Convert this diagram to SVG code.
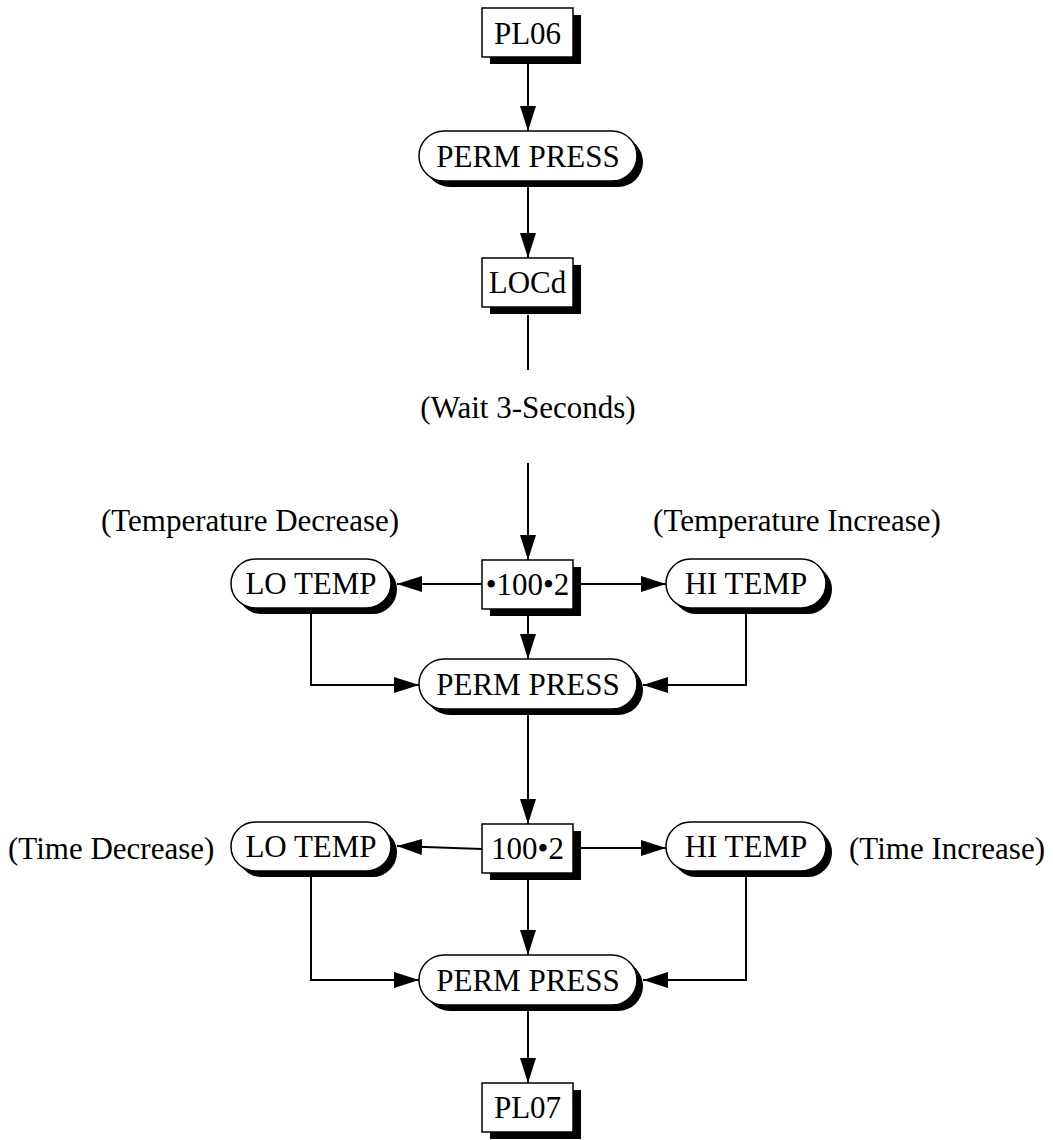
<svg xmlns="http://www.w3.org/2000/svg" width="1053" height="1140" viewBox="0 0 1053 1140">
  <style>
    text { font-family: "Liberation Serif", "Times New Roman", serif; font-size: 31px; fill: #000; }
    .c { text-anchor: middle; }
    .face { fill: #fff; stroke: #000; stroke-width: 1.5; }
    .shadow { fill: #000; stroke: none; }
    .wire { fill: none; stroke: #000; stroke-width: 2; }
    .arrow { marker-end: url(#head); }
  </style>
  <defs>
    <marker id="head" markerUnits="userSpaceOnUse" markerWidth="26" markerHeight="18" refX="25" refY="8" orient="auto">
      <path d="M0,0 L25,8 L0,16 Z" fill="#000"/>
    </marker>
  </defs>
  <rect width="1053" height="1140" fill="#fff"/>

  <!-- connectors -->
  <g id="connectors">
    <line class="wire arrow" x1="528" y1="64" x2="528" y2="131"/>
    <line class="wire arrow" x1="528" y1="187" x2="528" y2="258"/>
    <line class="wire" x1="528" y1="315" x2="528" y2="370"/>
    <line class="wire arrow" x1="528" y1="463" x2="528" y2="560"/>
    <line class="wire arrow" x1="482" y1="584" x2="397" y2="584"/>
    <line class="wire arrow" x1="581" y1="584" x2="666" y2="584"/>
    <line class="wire arrow" x1="528" y1="616" x2="528" y2="659"/>
    <polyline class="wire arrow" points="311,608 311,685 419,685"/>
    <polyline class="wire arrow" points="746,614 746,685 643,685"/>
    <line class="wire arrow" x1="528" y1="715" x2="528" y2="824"/>
    <line class="wire arrow" x1="482" y1="849" x2="397" y2="846"/>
    <line class="wire arrow" x1="581" y1="848" x2="666" y2="848"/>
    <line class="wire arrow" x1="528" y1="880" x2="528" y2="955"/>
    <polyline class="wire arrow" points="311,871 311,980 419,980"/>
    <polyline class="wire arrow" points="746,877 746,980 643,980"/>
    <line class="wire arrow" x1="528" y1="1011" x2="528" y2="1083"/>
  </g>

  <!-- free labels -->
  <g id="labels">
    <text class="c" x="528" y="418">(Wait 3-Seconds)</text>
    <text class="c" x="250" y="531">(Temperature Decrease)</text>
    <text class="c" x="797" y="531">(Temperature Increase)</text>
    <text x="8" y="859">(Time Decrease)</text>
    <text x="1045" y="859" text-anchor="end">(Time Increase)</text>
  </g>

  <!-- nodes -->
  <g id="pl06">
    <rect class="shadow" x="490" y="15" width="91" height="49"/>
    <rect class="face" x="482" y="8" width="91" height="49"/>
    <text class="c" x="527.5" y="43.5">PL06</text>
  </g>
  <g id="perm-press-1">
    <rect class="shadow" x="425" y="137" width="218" height="50" rx="25"/>
    <rect class="face" x="419" y="131" width="218" height="50" rx="25"/>
    <text class="c" x="528" y="167">PERM PRESS</text>
  </g>
  <g id="locd">
    <rect class="shadow" x="490" y="265" width="91" height="49"/>
    <rect class="face" x="482" y="258" width="91" height="49"/>
    <text class="c" x="527.5" y="293">LOCd</text>
  </g>
  <g id="temp-setting">
    <rect class="shadow" x="490" y="567" width="91" height="49"/>
    <rect class="face" x="482" y="560" width="91" height="49"/>
    <text class="c" x="527.5" y="595">•100•2</text>
  </g>
  <g id="lo-temp-1">
    <rect class="shadow" x="237" y="565" width="160" height="49" rx="24.5"/>
    <rect class="face" x="231" y="559" width="160" height="49" rx="24.5"/>
    <text class="c" x="311" y="594">LO TEMP</text>
  </g>
  <g id="hi-temp-1">
    <rect class="shadow" x="672" y="565" width="160" height="49" rx="24.5"/>
    <rect class="face" x="666" y="559" width="160" height="49" rx="24.5"/>
    <text class="c" x="746" y="594">HI TEMP</text>
  </g>
  <g id="perm-press-2">
    <rect class="shadow" x="425" y="665" width="218" height="50" rx="25"/>
    <rect class="face" x="419" y="659" width="218" height="50" rx="25"/>
    <text class="c" x="528" y="695">PERM PRESS</text>
  </g>
  <g id="time-setting">
    <rect class="shadow" x="490" y="831" width="91" height="49"/>
    <rect class="face" x="482" y="824" width="91" height="49"/>
    <text class="c" x="527.5" y="859">100•2</text>
  </g>
  <g id="lo-temp-2">
    <rect class="shadow" x="237" y="828" width="160" height="49" rx="24.5"/>
    <rect class="face" x="231" y="822" width="160" height="49" rx="24.5"/>
    <text class="c" x="311" y="857">LO TEMP</text>
  </g>
  <g id="hi-temp-2">
    <rect class="shadow" x="672" y="828" width="160" height="49" rx="24.5"/>
    <rect class="face" x="666" y="822" width="160" height="49" rx="24.5"/>
    <text class="c" x="746" y="857">HI TEMP</text>
  </g>
  <g id="perm-press-3">
    <rect class="shadow" x="425" y="961" width="218" height="50" rx="25"/>
    <rect class="face" x="419" y="955" width="218" height="50" rx="25"/>
    <text class="c" x="528" y="991">PERM PRESS</text>
  </g>
  <g id="pl07">
    <rect class="shadow" x="490" y="1090" width="91" height="49"/>
    <rect class="face" x="482" y="1083" width="91" height="49"/>
    <text class="c" x="527.5" y="1118">PL07</text>
  </g>
</svg>
